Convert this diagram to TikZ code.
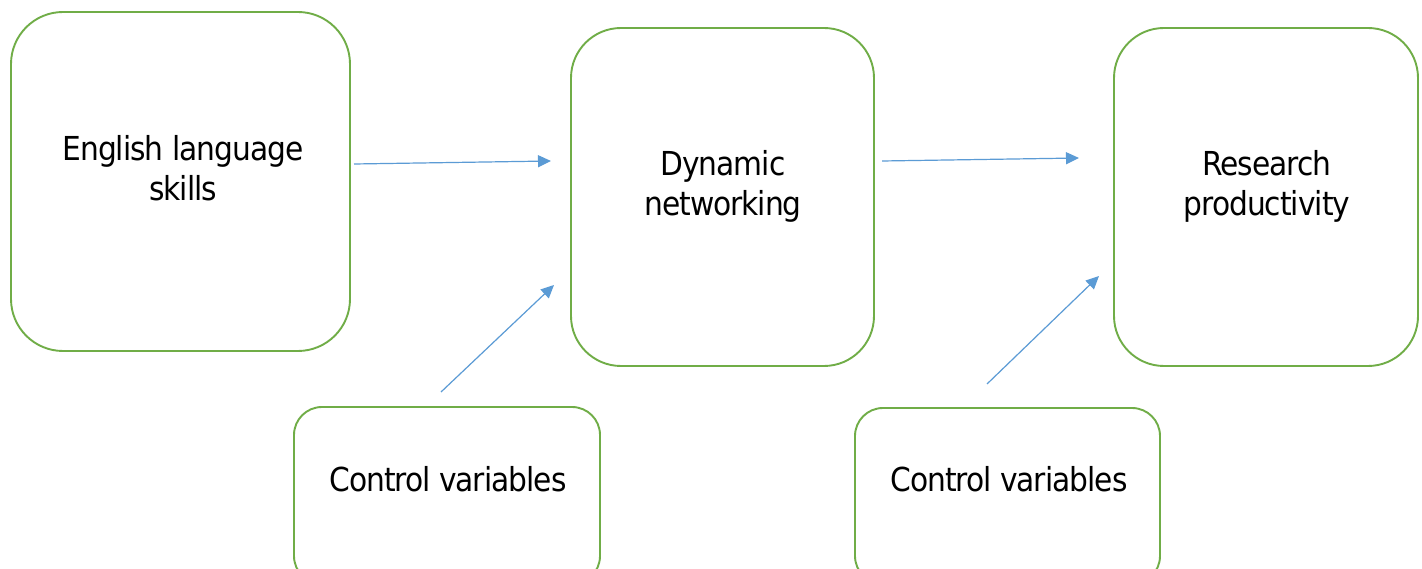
\documentclass[tikz,border=0pt]{standalone}
\usepackage{fontspec}
\setmainfont{DejaVu Sans Condensed}[LetterSpace=-3]
\usetikzlibrary{arrows.meta}
\definecolor{boxgreen}{HTML}{70AD47}
\definecolor{arrowblue}{HTML}{5B9BD5}
\tikzset{
  x=1pt, y=-1pt,
  stage/.style={draw=boxgreen, line width=1.9pt, fill=none},
  label text/.style={font=\fontsize{33}{40}\selectfont, align=center, anchor=base, inner sep=0pt},
  link/.style={draw=arrowblue, line width=1.2pt, -{Triangle[length=13pt,width=12pt]}}
}
\begin{document}
\begin{tikzpicture}
  \clip (0,0) rectangle (1422,569);
  \fill[white] (0,0) rectangle (1422,569);

  % main boxes
  \draw[stage, rounded corners=52pt] (11,12) rectangle (350,351);
  \draw[stage, rounded corners=50pt] (571,28) rectangle (874,366);
  \draw[stage, rounded corners=50pt] (1114,28) rectangle (1418,366);
  % control boxes (bottom edge runs off the page)
  \draw[stage, rounded corners=28pt] (294,407) rectangle (600,584);
  \draw[stage, rounded corners=28pt] (855,408) rectangle (1160,584);

  % box texts (base anchor sits on the last line)
  \node[label text] (eng) at (183,201) {English language\\skills};
  \node[label text] (dyn) at (723,216) {Dynamic\\networking};
  \node[label text] (res) at (1267,216) {Research\\productivity};
  \node[label text] (cv1) at (448,491) {Control variables};
  \node[label text] (cv2) at (1009,491) {Control variables};

  % connector end points
  \coordinate (a1s) at (354,164);
  \coordinate (a1e) at (551,161);
  \coordinate (a2s) at (882,161);
  \coordinate (a2e) at (1079,158);
  \coordinate (a3s) at (441,392);
  \coordinate (a3e) at (554,285);
  \coordinate (a4s) at (987,384);
  \coordinate (a4e) at (1099,276);

  \draw[link] (a1s) -- (a1e);
  \draw[link] (a2s) -- (a2e);
  \draw[link] (a3s) -- (a3e);
  \draw[link] (a4s) -- (a4e);
\end{tikzpicture}
\end{document}
